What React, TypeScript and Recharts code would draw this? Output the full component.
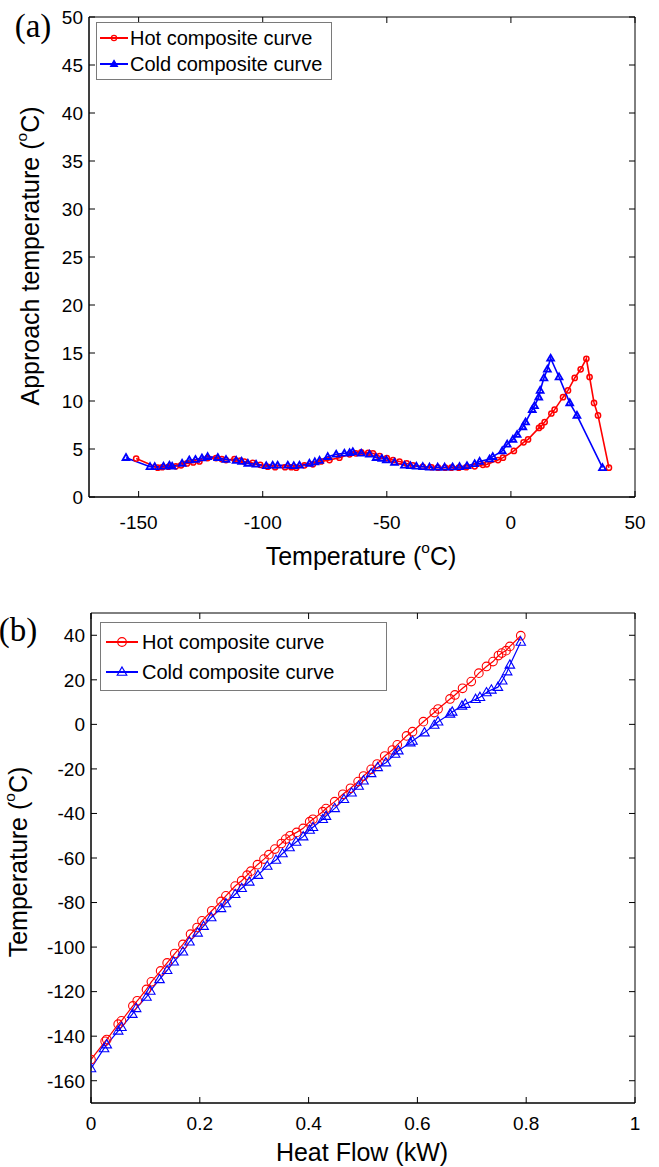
import React from 'react';
import { LineChart, Line, XAxis, YAxis, ReferenceArea } from 'recharts';

// ---------- Panel (a): approach temperature vs temperature ----------
const aHotTemperature = [
  -151.0, -142.3, -140.5, -138.0, -135.0, -132.9, -130.5, -128.0, -125.5, -122.2,
  -118.8, -116.5, -114.8, -111.4, -109.0, -107.4, -104.0, -101.0, -98.0, -95.0,
  -91.0, -88.5, -86.5, -83.2, -79.8, -76.5, -73.1, -69.1, -65.0, -62.5,
  -60.3, -57.5, -55.6, -52.9, -50.0, -47.5, -44.9, -42.0, -39.5, -35.5,
  -32.0, -29.4, -26.5, -24.0, -21.0, -18.0, -14.6, -11.3, -9.7, -5.2,
  -3.2, 1.2, 5.1, 6.9, 11.3, 12.3, 13.6, 16.3, 17.6, 21.0,
  23.0, 25.7, 28.1, 30.4, 31.7, 33.5, 35.1, 39.5,
];
const aHotApproach = [
  4.0, 3.05, 3.1, 3.15, 3.2, 3.3, 3.5, 3.6, 3.7, 4.05,
  4.05, 3.95, 3.85, 3.95, 3.8, 3.7, 3.55, 3.35, 3.15, 3.1,
  3.1, 3.1, 3.05, 3.3, 3.4, 3.7, 3.85, 4.1, 4.45, 4.55,
  4.65, 4.6, 4.55, 4.25, 4.05, 3.85, 3.7, 3.5, 3.3, 3.15,
  3.1, 3.05, 3.05, 3.05, 3.05, 3.1, 3.2, 3.35, 3.4, 3.85,
  4.1, 4.8, 5.7, 6.0, 7.2, 7.4, 7.8, 8.7, 9.1, 10.4,
  11.1, 12.4, 13.3, 14.4, 12.5, 9.8, 8.5, 3.05,
];
const aColdTemperature = [
  -155.1, -145.4, -143.5, -140.0, -137.6, -136.5, -132.5, -129.6, -127.1, -124.5,
  -122.2, -118.1, -114.8, -110.7, -108.5, -106.0, -102.7, -98.6, -96.0, -94.0,
  -89.9, -87.5, -85.2, -81.2, -79.0, -77.1, -73.8, -70.4, -67.1, -65.0,
  -63.7, -60.3, -57.0, -54.3, -52.0, -50.2, -46.9, -42.9, -40.5, -38.1,
  -35.5, -32.8, -29.5, -26.7, -23.5, -20.7, -17.7, -14.6, -12.6, -8.6,
  -7.3, -3.5, -1.5, 0.8, 2.5, 4.8, 5.9, 8.6, 9.5, 11.2,
  11.8, 13.3, 14.7, 16.0, 19.4, 23.7, 26.6, 36.9,
];
const aColdApproach = [
  4.1, 3.15, 3.15, 3.2, 3.3, 3.2, 3.5, 3.85, 3.9, 4.05,
  4.2, 4.1, 3.9, 3.8, 3.7, 3.5, 3.4, 3.25, 3.3, 3.3,
  3.3, 3.25, 3.3, 3.5, 3.65, 3.8, 4.2, 4.45, 4.55, 4.6,
  4.7, 4.55, 4.45, 4.1, 4.0, 3.85, 3.6, 3.3, 3.25, 3.2,
  3.15, 3.1, 3.1, 3.1, 3.12, 3.15, 3.25, 3.45, 3.7, 3.95,
  4.2, 4.8, 5.5, 6.0, 6.5, 7.3, 7.8, 9.1, 9.5, 10.4,
  11.1, 12.4, 13.3, 14.45, 12.5, 9.8, 8.5, 3.05,
];
const aXTicks = [-150, -100, -50, 0, 50];
const aYTicks = [0, 5, 10, 15, 20, 25, 30, 35, 40, 45, 50];

// ---------- Panel (b): temperature vs heat flow ----------
const bHotHeatFlow = [
  0, 0.026, 0.029, 0.05, 0.056, 0.077, 0.085, 0.102, 0.111, 0.128,
  0.14, 0.154, 0.169, 0.183, 0.195, 0.204, 0.222, 0.239, 0.248, 0.265,
  0.277, 0.287, 0.294, 0.306, 0.318, 0.327, 0.338, 0.35, 0.358, 0.366,
  0.378, 0.39, 0.402, 0.408, 0.426, 0.432, 0.448, 0.463, 0.477, 0.491,
  0.501, 0.515, 0.526, 0.54, 0.554, 0.563, 0.58, 0.591, 0.611, 0.631,
  0.638, 0.66, 0.669, 0.683, 0.699, 0.713, 0.727, 0.739, 0.749, 0.755,
  0.763, 0.77, 0.79,
];
const bHotTemperature = [
  -150.5, -142.3, -141.5, -134.6, -133.1, -126.4, -124.1, -119.0, -115.6, -110.7,
  -107.1, -102.9, -98.8, -94.2, -91.2, -88.2, -83.7, -79.5, -77.0, -72.6,
  -70.2, -67.7, -65.9, -63.0, -60.5, -58.5, -56.0, -53.5, -51.5, -50.0,
  -48.5, -46.7, -43.7, -42.6, -39.2, -37.8, -34.7, -31.4, -28.7, -25.7,
  -23.2, -20.2, -17.8, -14.2, -11.5, -9.2, -5.2, -3.3, 1.2, 5.3,
  6.9, 11.4, 13.2, 16.2, 19.2, 23.0, 26.0, 28.2, 30.9, 32.0,
  33.1, 35.0, 39.8,
];
const bColdHeatFlow = [
  0, 0.024, 0.029, 0.05, 0.056, 0.076, 0.083, 0.102, 0.109, 0.126,
  0.14, 0.152, 0.169, 0.181, 0.196, 0.207, 0.221, 0.239, 0.248, 0.265,
  0.277, 0.291, 0.307, 0.324, 0.34, 0.352, 0.365, 0.377, 0.39, 0.402,
  0.408, 0.426, 0.432, 0.448, 0.465, 0.479, 0.492, 0.501, 0.515, 0.527,
  0.542, 0.559, 0.565, 0.587, 0.591, 0.613, 0.631, 0.638, 0.66, 0.664,
  0.682, 0.688, 0.707, 0.715, 0.727, 0.736, 0.748, 0.756, 0.765, 0.77,
  0.79,
];
const bColdTemperature = [
  -154.5, -145.5, -143.8, -137.6, -136.0, -130.1, -127.5, -122.4, -119.7, -114.5,
  -110.4, -106.6, -102.1, -97.6, -93.6, -90.6, -86.7, -82.6, -80.4, -76.3,
  -73.6, -70.7, -67.7, -63.6, -60.9, -58.0, -55.3, -52.8, -50.4, -47.4,
  -46.2, -42.6, -41.2, -37.7, -33.6, -30.7, -27.7, -25.3, -22.0, -19.3,
  -17.2, -13.3, -11.8, -8.2, -7.5, -3.7, -0.3, 1.2, 4.7, 5.6,
  8.3, 9.1, 11.3, 12.2, 14.3, 15.5, 16.7, 19.6, 23.7, 26.7,
  37.0,
];
const bXTicks = [0, 0.2, 0.4, 0.6, 0.8, 1];
const bYTicks = [-160, -140, -120, -100, -80, -60, -40, -20, 0, 20, 40];

const legendLabels = ['Hot composite curve', 'Cold composite curve'];

const HOT = '#ff0000';
const COLD = '#0000ff';
const SANS = '"Liberation Sans", Arial, Helvetica, sans-serif';
const SERIF = '"Liberation Serif", "Times New Roman", serif';
const TICK_FONT = 19;

const zip = (xs: number[], ys: number[]) => xs.map((x, i) => ({ x, y: ys[i] }));

const aHotData = zip(aHotTemperature, aHotApproach);
const aColdData = zip(aColdTemperature, aColdApproach);
const bHotData = zip(bHotHeatFlow, bHotTemperature);
const bColdData = zip(bColdHeatFlow, bColdTemperature);

const TICK_LEN = 6;

function makeYTick(plotW: number) {
  return (props: any) => {
    const { x, y, payload } = props;
    return (
      <g key={`yt-${payload.value}`}>
        <line x1={x} x2={x + TICK_LEN} y1={y} y2={y} stroke="#000" strokeWidth={1} />
        <line x1={x + plotW - TICK_LEN} x2={x + plotW} y1={y} y2={y} stroke="#000" strokeWidth={1} />
        <text x={x - 6} y={y} dy="0.36em" textAnchor="end" fontSize={TICK_FONT} fontFamily={SANS} fill="#000">
          {String(payload.value)}
        </text>
      </g>
    );
  };
}

function makeXTick(plotH: number, labelOffset: number) {
  return (props: any) => {
    const { x, y, payload } = props;
    return (
      <g key={`xt-${payload.value}`}>
        <line x1={x} x2={x} y1={y} y2={y - TICK_LEN} stroke="#000" strokeWidth={1} />
        <line x1={x} x2={x} y1={y - plotH} y2={y - plotH + TICK_LEN} stroke="#000" strokeWidth={1} />
        <text x={x} y={y + labelOffset} dy="0.36em" textAnchor="middle" fontSize={TICK_FONT} fontFamily={SANS} fill="#000">
          {String(payload.value)}
        </text>
      </g>
    );
  };
}

function circleDot(r: number, sw: number, prefix: string) {
  return (props: any) => {
    const { cx, cy, index } = props;
    if (cx == null || cy == null) return <g key={`${prefix}${index}`} />;
    return <circle key={`${prefix}${index}`} cx={cx} cy={cy} r={r} fill="none" stroke={HOT} strokeWidth={sw} />;
  };
}

function triPath(cx: number, cy: number, s: number) {
  return `M${cx},${cy - s} L${cx + s * 0.95},${cy + s * 0.65} L${cx - s * 0.95},${cy + s * 0.65} Z`;
}

function triDot(s: number, sw: number, prefix: string, fill: string) {
  return (props: any) => {
    const { cx, cy, index } = props;
    if (cx == null || cy == null) return <g key={`${prefix}${index}`} />;
    return <path key={`${prefix}${index}`} d={triPath(cx, cy, s)} fill={fill} stroke={COLD} strokeWidth={sw} />;
  };
}

function Sup() {
  return <span style={{ fontSize: '0.62em', position: 'relative', top: '-0.75em' }}>o</span>;
}

function TextAt({ x, y, size, family, rotate, children }: any) {
  return (
    <div
      style={{
        position: 'absolute',
        left: x,
        top: y,
        transform: `translate(-50%, -50%)${rotate ? ' rotate(-90deg)' : ''}`,
        whiteSpace: 'nowrap',
        fontSize: size,
        fontFamily: family,
        color: '#000',
        lineHeight: 1,
      }}
    >
      {children}
    </div>
  );
}

function LegendBox({ left, top, width, height, rowY, sampleX0, sampleX1, textX, marker }: any) {
  const mid = (sampleX0 + sampleX1) / 2 - left;
  return (
    <div
      style={{
        position: 'absolute',
        left,
        top,
        width,
        height,
        boxSizing: 'border-box',
        border: '1px solid #7a7a7a',
        background: '#fff',
      }}
    >
      <svg width={width} height={height} style={{ position: 'absolute', left: -1, top: -1 }}>
        {[0, 1].map((i) => {
          const cy = rowY[i] - top;
          const color = i === 0 ? HOT : COLD;
          return (
            <g key={i}>
              <line x1={sampleX0 - left} x2={sampleX1 - left} y1={cy} y2={cy} stroke={color} strokeWidth={2} />
              {i === 0 ? (
                <circle cx={mid} cy={cy} r={marker.r} fill="none" stroke={HOT} strokeWidth={1.2} />
              ) : (
                <path d={triPath(mid, cy, marker.s)} fill={marker.fill} stroke={COLD} strokeWidth={1.2} />
              )}
            </g>
          );
        })}
      </svg>
      {[0, 1].map((i) => (
        <div
          key={i}
          style={{
            position: 'absolute',
            left: textX - left - 1,
            top: rowY[i] - top - 1,
            transform: 'translateY(-50%)',
            fontSize: 20,
            fontFamily: SANS,
            whiteSpace: 'nowrap',
            lineHeight: 1,
            color: '#000',
          }}
        >
          {legendLabels[i]}
        </div>
      ))}
    </div>
  );
}

export default function App() {
  // plot area (a): left 89, top 17, right 635, bottom 497
  const aW = 659, aH = 590;
  const aMargin = { top: 17, right: 24, bottom: 92, left: 88 };
  const aPlotW = 546;
  const aPlotH = 480;

  // plot area (b): left 91, top 613, right 635, bottom 1103
  const bW = 659, bH = 567;
  const bMargin = { top: 13, right: 24, bottom: 63, left: 90 };
  const bPlotW = 544;
  const bPlotH = 490;

  return (
    <div style={{ position: 'absolute', left: 0, top: 0, width: 659, height: 1167, background: '#fff', overflow: 'hidden' }}>
      {/* Panel (a) */}
      <div style={{ position: 'absolute', left: 0, top: 0 }}>
        <LineChart width={aW} height={aH} margin={aMargin}>
          <XAxis
            type="number"
            dataKey="x"
            domain={[-170, 50]}
            ticks={aXTicks}
            interval={0}
            allowDataOverflow
            height={1}
            tickSize={0}
            tickMargin={0}
            tickLine={false}
            axisLine={{ stroke: '#000', strokeWidth: 1 }}
            tick={makeXTick(aPlotH, 25)}
          />
          <YAxis
            type="number"
            domain={[0, 50]}
            ticks={aYTicks}
            interval={0}
            allowDataOverflow
            width={1}
            tickSize={0}
            tickMargin={0}
            tickLine={false}
            axisLine={{ stroke: '#000', strokeWidth: 1 }}
            tick={makeYTick(aPlotW)}
          />
          <ReferenceArea x1={-170} x2={50} y1={0} y2={50} fill="none" stroke="#000" strokeWidth={1} fillOpacity={0} />
          <Line
            data={aHotData}
            dataKey="y"
            type="linear"
            stroke={HOT}
            strokeWidth={1.6}
            dot={circleDot(2.6, 1.5, 'ah')}
            activeDot={false}
            isAnimationActive={false}
          />
          <Line
            data={aColdData}
            dataKey="y"
            type="linear"
            stroke={COLD}
            strokeWidth={1.6}
            dot={triDot(3.6, 1.8, 'ac', 'none')}
            activeDot={false}
            isAnimationActive={false}
          />
        </LineChart>
      </div>

      {/* Panel (b) */}
      <div style={{ position: 'absolute', left: 0, top: 600 }}>
        <LineChart width={bW} height={bH} margin={bMargin}>
          <XAxis
            type="number"
            dataKey="x"
            domain={[0, 1]}
            ticks={bXTicks}
            interval={0}
            allowDataOverflow
            height={1}
            tickSize={0}
            tickMargin={0}
            tickLine={false}
            axisLine={{ stroke: '#000', strokeWidth: 1 }}
            tick={makeXTick(bPlotH, 20)}
          />
          <YAxis
            type="number"
            domain={[-170, 50]}
            ticks={bYTicks}
            interval={0}
            allowDataOverflow
            width={1}
            tickSize={0}
            tickMargin={0}
            tickLine={false}
            axisLine={{ stroke: '#000', strokeWidth: 1 }}
            tick={makeYTick(bPlotW)}
          />
          <ReferenceArea x1={0} x2={1} y1={-170} y2={50} fill="none" stroke="#000" strokeWidth={1} fillOpacity={0} />
          <Line
            data={bHotData}
            dataKey="y"
            type="linear"
            stroke={HOT}
            strokeWidth={1.2}
            dot={circleDot(4.3, 1.1, 'bh')}
            activeDot={false}
            isAnimationActive={false}
          />
          <Line
            data={bColdData}
            dataKey="y"
            type="linear"
            stroke={COLD}
            strokeWidth={1.2}
            dot={triDot(5, 1.1, 'bc', 'none')}
            activeDot={false}
            isAnimationActive={false}
          />
        </LineChart>
      </div>

      {/* Legends */}
      <LegendBox
        left={96}
        top={22}
        width={236}
        height={58}
        rowY={[38, 64]}
        sampleX0={100}
        sampleX1={128}
        textX={130}
        marker={{ r: 2.6, s: 3.6, fill: COLD }}
      />
      <LegendBox
        left={100}
        top={622}
        width={287}
        height={69}
        rowY={[642, 672]}
        sampleX0={106}
        sampleX1={138}
        textX={142}
        marker={{ r: 4.3, s: 5, fill: 'none' }}
      />

      {/* Panel letters */}
      <TextAt x={33} y={26} size={33} family={SERIF}>(a)</TextAt>
      <TextAt x={18} y={630} size={33} family={SERIF}>(b)</TextAt>

      {/* Axis titles */}
      <TextAt x={30} y={256} size={25} family={SANS} rotate>
        Approach temperature (<Sup />C)
      </TextAt>
      <TextAt x={361} y={556} size={25} family={SANS}>
        Temperature (<Sup />C)
      </TextAt>
      <TextAt x={18} y={862} size={25} family={SANS} rotate>
        Temperature (<Sup />C)
      </TextAt>
      <TextAt x={362} y={1152} size={25} family={SANS}>
        Heat Flow (kW)
      </TextAt>
    </div>
  );
}
